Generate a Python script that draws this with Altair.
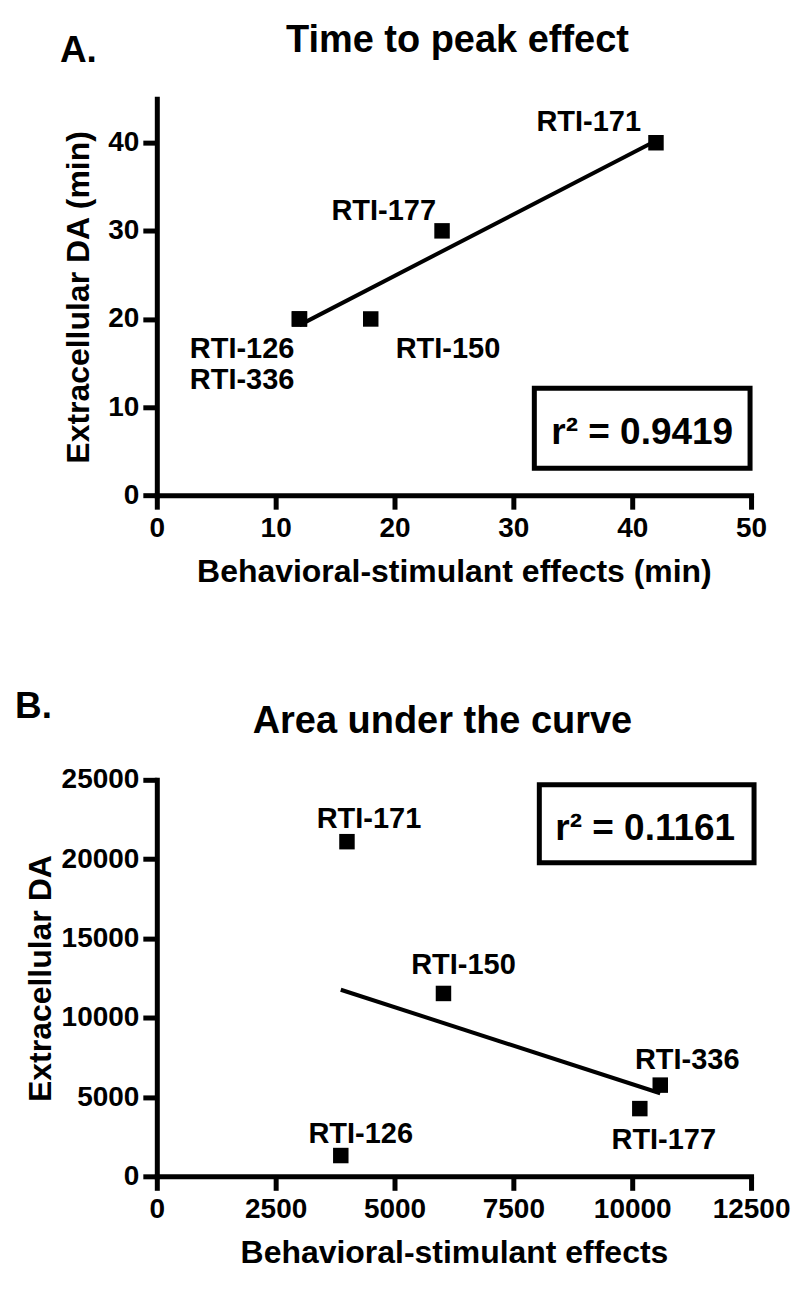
import altair as alt
import pandas as pd

# ---------------- data ----------------
compounds = ["RTI-126", "RTI-150", "RTI-171", "RTI-177", "RTI-336"]

# Panel A: time to peak effect (min)
peak_behavior = [12, 18, 42, 24, 12]
peak_da = [20, 20, 40, 30, 20]

# Panel B: area under the curve
auc_behavior = [3870, 6030, 4000, 10160, 10590]
auc_da = [1310, 11530, 21100, 4270, 5750]

titles = ["Time to peak effect", "Area under the curve"]
panel_letters = ["A.", "B."]
r2_labels = ["r\u00b2 = 0.9419", "r\u00b2 = 0.1161"]
x_titles = ["Behavioral-stimulant effects (min)", "Behavioral-stimulant effects"]
y_titles = ["Extracellular DA (min)", "Extracellular DA"]
peak_x_ticks = [0, 10, 20, 30, 40, 50]
peak_y_ticks = [0, 10, 20, 30, 40]
auc_x_ticks = [0, 2500, 5000, 7500, 10000, 12500]
auc_y_ticks = [0, 5000, 10000, 15000, 20000, 25000]

# ---------------- styling ----------------
FONT = "Liberation Sans"
W, H = 595, 397

# label placement (align, dx, dy) relative to each marker
label_pos_a = {
    "RTI-171": ("right", -15, -12),
    "RTI-177": ("right", -6, -11),
    "RTI-150": ("left", 25, 39),
    "RTI-126": ("right", -5, 39),
    "RTI-336": ("right", -5, 70),
}
label_pos_b = {
    "RTI-171": ("center", 22, -14),
    "RTI-150": ("center", 20, -19),
    "RTI-336": ("center", 27, -16),
    "RTI-177": ("center", 24, 40),
    "RTI-126": ("center", 20, -13),
}


def panel(i, xs, ys, xdom, ydom, xticks, yticks, label_pos, title_x,
          letter_x, letter_y, box, r2_xy, y_title_pad):
    df = pd.DataFrame({"name": compounds, "x": xs, "y": ys})
    ann = pd.DataFrame({"title": [titles[i]], "letter": [panel_letters[i]],
                        "r2": [r2_labels[i]]})

    xenc = alt.X("x:Q", scale=alt.Scale(domain=xdom, nice=False, zero=True),
                 axis=alt.Axis(values=xticks, title=x_titles[i], format="d",
                               labelFlush=False, labelOverlap=False,
                               labelPadding=5, titlePadding=14))
    yenc = alt.Y("y:Q", scale=alt.Scale(domain=ydom, nice=False, zero=True),
                 axis=alt.Axis(values=yticks, title=y_titles[i], format="d",
                               labelPadding=4, titlePadding=y_title_pad,
                               labelOverlap=False))

    base = alt.Chart(df)
    line = base.transform_regression("x", "y").mark_line(
        color="black", strokeWidth=4).encode(x=xenc, y=yenc)
    pts = base.mark_point(shape="square", filled=True, size=240,
                          color="black", opacity=1).encode(x=xenc, y=yenc)

    layers = [line, pts]
    for name in compounds:
        al, dx, dy = label_pos[name]
        layers.append(
            base.transform_filter(alt.datum.name == name).mark_text(
                align=al, dx=dx, dy=dy, baseline="alphabetic", font=FONT,
                fontSize=29, fontWeight="bold", color="black"
            ).encode(x=xenc, y=yenc, text="name:N")
        )

    a = alt.Chart(ann)
    layers.append(a.mark_text(align="center", baseline="alphabetic", font=FONT,
                              fontSize=38, fontWeight="bold", color="black")
                  .encode(x=alt.value(title_x), y=alt.value(-47), text="title:N"))
    layers.append(a.mark_text(align="left", baseline="alphabetic", font=FONT,
                              fontSize=37, fontWeight="bold", color="black")
                  .encode(x=alt.value(letter_x), y=alt.value(letter_y), text="letter:N"))
    layers.append(a.mark_rect(filled=False, stroke="black", strokeWidth=5)
                  .encode(x=alt.value(box[0]), x2=alt.value(box[1]),
                          y=alt.value(box[2]), y2=alt.value(box[3])))
    layers.append(a.mark_text(align="center", baseline="alphabetic", font=FONT,
                              fontSize=37, fontWeight="bold", color="black")
                  .encode(x=alt.value(r2_xy[0]), y=alt.value(r2_xy[1]), text="r2:N"))

    return alt.layer(*layers).properties(width=W, height=H)


pa = panel(0, peak_behavior, peak_da, [0, 50], [0, 45], peak_x_ticks, peak_y_ticks,
           label_pos_a, 301, -97, -37, (378, 594, 290, 370), (486, 346), 12)
pb = panel(1, auc_behavior, auc_da, [0, 12500], [0, 25000], auc_x_ticks, auc_y_ticks,
           label_pos_b, 286, -142, -62, (383, 598, 5, 83), (489, 60), 4)

chart = alt.vconcat(pa, pb, spacing=101).properties(
    padding={"left": 7, "top": 13, "right": 2, "bottom": 2}
).configure_view(stroke=None).configure_axis(
    domainColor="black", domainWidth=5, domainCap="square",
    tickColor="black", tickWidth=5, tickSize=14,
    labelFont=FONT, labelFontSize=28, labelFontWeight="bold", labelColor="black",
    titleFont=FONT, titleFontSize=32, titleFontWeight="bold", titleColor="black",
    grid=False,
)

chart.save("out.html", embed_options={"renderer": "svg", "actions": False})
